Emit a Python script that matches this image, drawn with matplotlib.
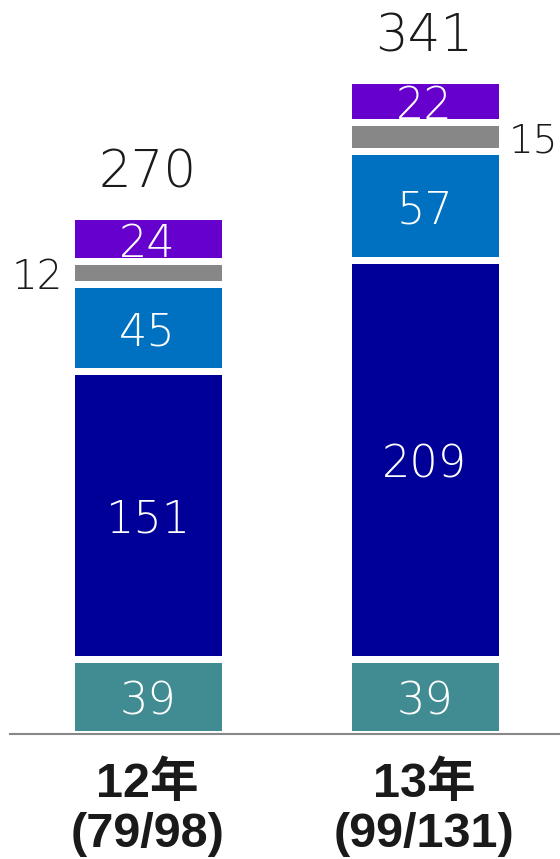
import matplotlib
matplotlib.use("Agg")
import matplotlib.pyplot as plt
import numpy as np

# data, bottom segment first
years = ["12年", "13年"]
counts = ["(79/98)", "(99/131)"]
teal = [39, 39]
navy = [151, 209]
blue = [45, 57]
grey = [12, 15]
purple = [24, 22]
totals = [270, 341]

colors = ["#408c92", "#000099", "#0070c0", "#878787", "#6600cc"]
segs = [teal, navy, blue, grey, purple]

num_font = ["DejaVu Sans"]
num_weight = "light"
lab_font = ["Liberation Sans", "Noto Sans CJK JP"]

def main():
    W, H = 560, 859
    fig = plt.figure(figsize=(W / 100, H / 100), dpi=100)
    base = 734
    ax = fig.add_axes([10 / W, (H - base) / H, 550 / W, base / H])

    x = np.arange(len(years))
    k = 277.0  # px per x unit
    xmin = -137.5 / k
    ax.set_xlim(xmin, xmin + 550 / k)
    ax.set_ylim(0, base / 1.913)
    width = 154 / k

    bottom = np.zeros(len(years))
    for vals, c in zip(segs, colors):
        vals = np.array(vals)
        ax.bar(x, vals, width, bottom=bottom, color=c, linewidth=0, zorder=1)
        # white gaps drawn on top of the labels
        ax.bar(x, vals, width, bottom=bottom, facecolor="none",
               edgecolor="white", linewidth=5.04, zorder=3)
        for i in range(len(years)):
            mid = bottom[i] + vals[i] / 2
            if c == "#878787":
                if i == 0:
                    ax.annotate(str(vals[i]), (x[i] - width / 2, mid),
                                xytext=(-8, -16), textcoords="offset pixels",
                                ha="right", va="baseline", fontsize=29,
                                color="#1a1a1a", family=num_font,
                                fontweight=num_weight)
                else:
                    ax.annotate(str(vals[i]), (x[i] + width / 2, mid),
                                xytext=(7, -16), textcoords="offset pixels",
                                ha="left", va="baseline", fontsize=28,
                                color="#1a1a1a", family=num_font,
                                fontweight=num_weight)
            else:
                ax.annotate(str(vals[i]), (x[i], mid), xytext=(0, -18),
                            textcoords="offset pixels", ha="center",
                            va="baseline", fontsize=32, color="white",
                            family=num_font, fontweight=num_weight, zorder=2)
        bottom = bottom + vals

    for i in range(len(years)):
        ax.annotate(str(totals[i]), (x[i], bottom[i]), xytext=(0, 28),
                    textcoords="offset pixels", ha="center", va="baseline",
                    fontsize=37, color="#1a1a1a", family=num_font,
                    fontweight=num_weight, annotation_clip=False)
        xf = (10 + (x[i] - xmin) * k) / W
        fig.text(xf, (H - 797) / H, years[i], ha="center", va="baseline",
                 fontsize=35, fontweight="bold", color="#1a1a1a",
                 family=lab_font)
        fig.text(xf, (H - 847) / H, counts[i], ha="center", va="baseline",
                 fontsize=35, fontweight="bold", color="#1a1a1a",
                 family=lab_font)

    for s in ["top", "left", "right"]:
        ax.spines[s].set_visible(False)
    ax.spines["bottom"].set_color("#888888")
    ax.spines["bottom"].set_linewidth(1.5)
    ax.spines["bottom"].set_zorder(4)
    ax.set_xticks([])
    ax.set_yticks([])
    ax.patch.set_alpha(0)

    fig.savefig("out.png", dpi=100)


if __name__ == "__main__":
    main()
